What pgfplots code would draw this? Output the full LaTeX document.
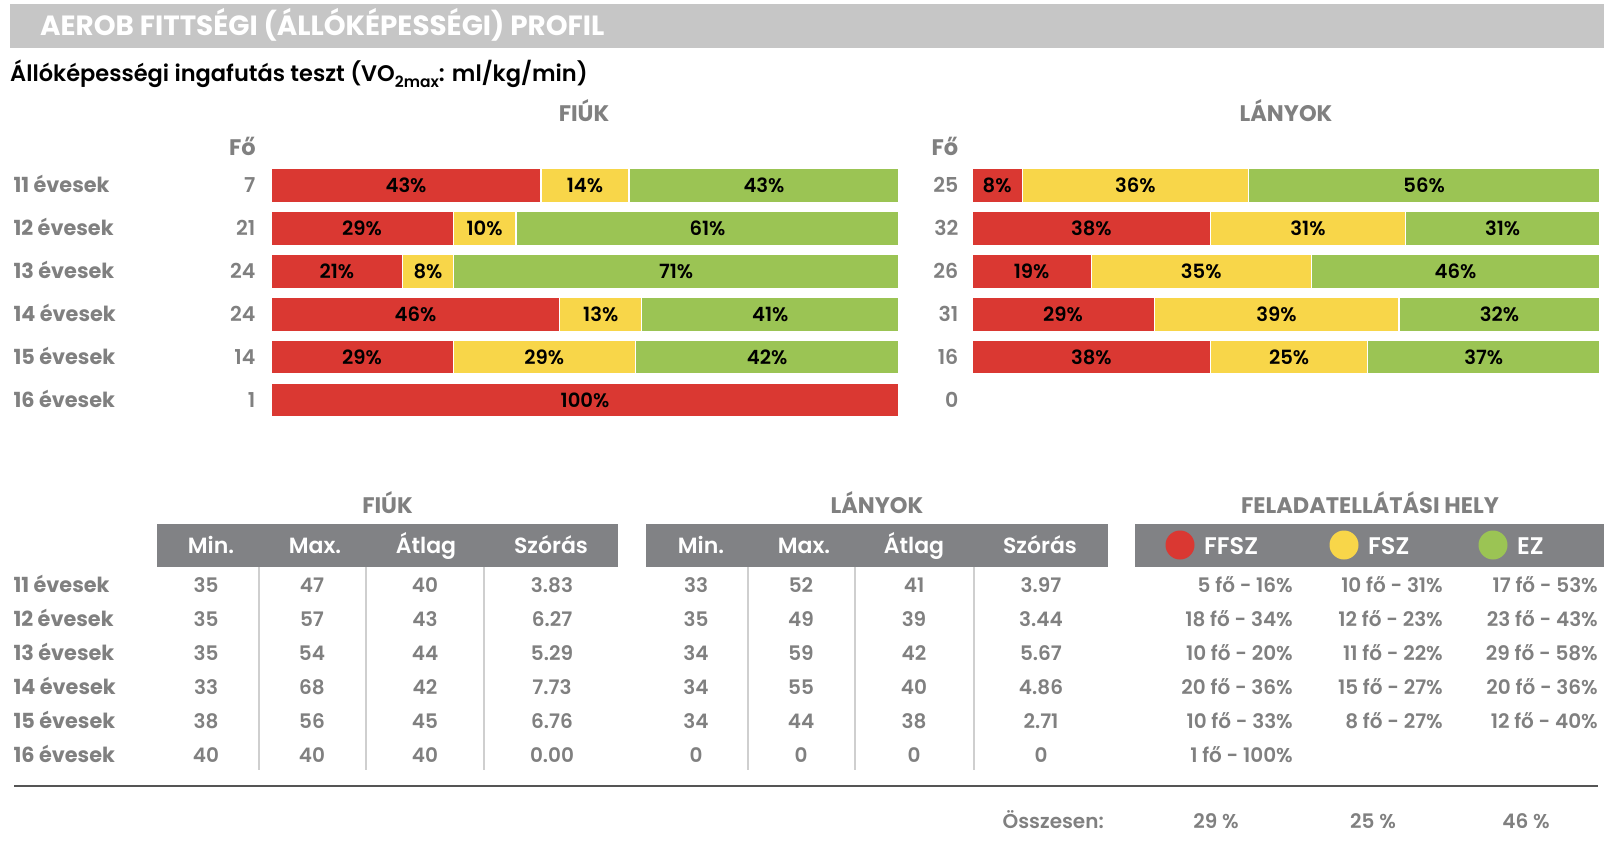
\documentclass[border=0pt]{standalone}
\usepackage{pgfplots}
\pgfplotsset{compat=1.18}
\usepackage{pgfplotstable}
\usepackage{fontspec}
\setmainfont{Poppins}[UprightFont=* Medium, BoldFont=* SemiBold]
\newfontfamily\heavy{Poppins Bold}
\definecolor{band}{HTML}{C6C6C6}
\definecolor{hdr}{HTML}{818285}
\definecolor{txt}{HTML}{808080}
\definecolor{sep}{HTML}{CFCFCF}
\definecolor{rulec}{HTML}{555555}
\definecolor{cred}{HTML}{DA3832}
\definecolor{cyel}{HTML}{F8D649}
\definecolor{cgrn}{HTML}{9BC454}
\newcommand\fs[1]{\fontsize{#1}{#1}\selectfont}

% FIUK
\pgfplotstableread{
r v
0 43
1 29
2 21
3 46
4 29
5 100
}\fR
\pgfplotstableread{
r v
0 14
1 10
2 8
3 13
4 29
}\fY
\pgfplotstableread{
r v
0 43
1 61
2 71
3 41
4 42
}\fG
% LANYOK
\pgfplotstableread{
r v
0 8
1 38
2 19
3 29
4 38
}\lR
\pgfplotstableread{
r v
0 36
1 31
2 35
3 39
4 25
}\lY
\pgfplotstableread{
r v
0 56
1 31
2 46
3 32
4 37
}\lG

\pgfplotsset{
  barax/.style={scale only axis, width=628pt, height=257.4pt, hide axis,
    xmin=0, xmax=100, ymin=-0.5, ymax=5.5, y dir=reverse, clip=false,
    xbar stacked, bar width=34pt,
    point meta=explicit symbolic,
    nodes near coords={\pgfplotspointmeta\%},
    every node near coord/.append style={anchor=center, font=\fs{19.6}\bfseries, text=black, inner sep=0pt},
  },
  seg/.style={fill=#1, draw=white, line width=1.2pt},
}

\begin{document}
\begin{tikzpicture}[x=1pt,y=1pt]
\useasboundingbox (0,0) rectangle (1616,-850);
% title band
\fill[band] (10,-4) rectangle (1604,-48);
\node[anchor=base west, inner sep=0, text=white, font=\fs{27.8}\heavy] at (40,-36) {AEROB FITTSÉGI (ÁLLÓKÉPESSÉGI) PROFIL};
\node[anchor=base west, inner sep=0, text=black, font=\fs{22.5}\bfseries] at (10,-81.4) {Állóképességi ingafutás teszt (VO\raisebox{-0.28em}{\fs{15.5}2max}: ml/kg/min)};

% bar charts
\begin{axis}[barax, at={(271pt,-164.05pt)}, anchor=north west]
\addplot[seg=cred] table[x=v,y=r,meta=v]{\fR};
\addplot[seg=cyel] table[x=v,y=r,meta=v]{\fY};
\addplot[seg=cgrn] table[x=v,y=r,meta=v]{\fG};
\end{axis}
\begin{axis}[barax, at={(972pt,-164.05pt)}, anchor=north west]
\addplot[seg=cred] table[x=v,y=r,meta=v]{\lR};
\addplot[seg=cyel] table[x=v,y=r,meta=v]{\lY};
\addplot[seg=cgrn] table[x=v,y=r,meta=v]{\lG};
\end{axis}

\begin{scope}[every node/.style={inner sep=0, text=txt, font=\fs{22.5}\heavy}]
\node[anchor=base] at (584,-121.6) {FIÚK};
\node[anchor=base] at (1286,-121.6) {LÁNYOK};
\node[anchor=base east] at (256,-155.6) {Fő};
\node[anchor=base east] at (958.5,-155.6) {Fő};
\end{scope}
\foreach \t/\m/\n [count=\i from 0] in {11/7/25,12/21/32,13/24/26,14/24/31,15/14/16,16/1/0}{
  \node[anchor=base west, inner sep=0, text=txt, font=\fs{20.8}\heavy] at (13.4,{-(192.7+42.9*\i)}) {\t\ évesek};
  \node[anchor=base east, inner sep=0, text=txt, font=\fs{20.5}\bfseries] at (255.6,{-(192.7+42.9*\i)}) {\m};
  \node[anchor=base east, inner sep=0, text=txt, font=\fs{20.5}\bfseries] at (958.5,{-(192.7+42.9*\i)}) {\n};
}

% lower tables
\begin{scope}[every node/.style={inner sep=0, text=txt, font=\fs{22.5}\heavy}]
\node[anchor=base] at (387.5,-513) {FIÚK};
\node[anchor=base] at (877,-513) {LÁNYOK};
\node[anchor=base] at (1370,-513) {FELADATELLÁTÁSI HELY};
\end{scope}
\fill[hdr] (157,-523.5) rectangle (618,-567);
\fill[hdr] (646,-523.5) rectangle (1108,-567);
\fill[hdr] (1135,-523.5) rectangle (1604,-567);
\foreach \x/\s in {211/Min.,315/Max.,426/Átlag,551/Szórás,701/Min.,804/Max.,914/Átlag,1040/Szórás}{
  \node[anchor=base, inner sep=0, text=white, font=\fs{22}\bfseries] at (\x,-553.4) {\s};
}
\fill[cred] (1180,-545) circle (14.5);
\fill[cyel] (1344,-545) circle (14.5);
\fill[cgrn] (1493,-545) circle (14.5);
\begin{scope}[every node/.style={inner sep=0, text=white, font=\fs{24}\bfseries}]
\node[anchor=base west] at (1204,-554) {FFSZ};
\node[anchor=base west] at (1368,-554) {FSZ};
\node[anchor=base west] at (1517,-554) {EZ};
\end{scope}

\foreach \x in {259,366,484,748,855,974}{
  \draw[sep, line width=2pt] (\x,-567) -- (\x,-770);
}

\foreach \t/\a/\b/\c/\d/\e/\f/\g/\h/\p/\q/\r [count=\i from 0] in {
  11/35/47/40/3.83/33/52/41/3.97/5 fő - 16\%/10 fő - 31\%/17 fő - 53\%,
  12/35/57/43/6.27/35/49/39/3.44/18 fő - 34\%/12 fő - 23\%/23 fő - 43\%,
  13/35/54/44/5.29/34/59/42/5.67/10 fő - 20\%/11 fő - 22\%/29 fő - 58\%,
  14/33/68/42/7.73/34/55/40/4.86/20 fő - 36\%/15 fő - 27\%/20 fő - 36\%,
  15/38/56/45/6.76/34/44/38/2.71/10 fő - 33\%/8 fő - 27\%/12 fő - 40\%,
  16/40/40/40/0.00/0/0/0/0/1 fő - 100\%/ / }{
  \pgfmathsetmacro{\yy}{-(592.6+34*\i)}
  \begin{scope}[every node/.style={inner sep=0, text=txt, font=\fs{20}\bfseries}]
  \node[anchor=base west, font=\fs{20.8}\heavy] at (13.4,\yy) {\t\ évesek};
  \node[anchor=base] at (206,\yy) {\a};
  \node[anchor=base] at (312,\yy) {\b};
  \node[anchor=base] at (425,\yy) {\c};
  \node[anchor=base] at (552,\yy) {\d};
  \node[anchor=base] at (696,\yy) {\e};
  \node[anchor=base] at (801,\yy) {\f};
  \node[anchor=base] at (914,\yy) {\g};
  \node[anchor=base] at (1041,\yy) {\h};
  \node[anchor=base east] at (1293,\yy) {\p};
  \node[anchor=base east] at (1443,\yy) {\q};
  \node[anchor=base east] at (1598,\yy) {\r};
  \end{scope}
}
\draw[rulec, line width=1.5pt] (14,-786) -- (1598,-786);
\begin{scope}[every node/.style={inner sep=0, text=txt, font=\fs{20}\bfseries}]
\node[anchor=base east] at (1104,-828.6) {Összesen:};
\node[anchor=base] at (1216,-828.6) {29 \%};
\node[anchor=base] at (1373,-828.6) {25 \%};
\node[anchor=base] at (1526,-828.6) {46 \%};
\end{scope}
\end{tikzpicture}
\end{document}
